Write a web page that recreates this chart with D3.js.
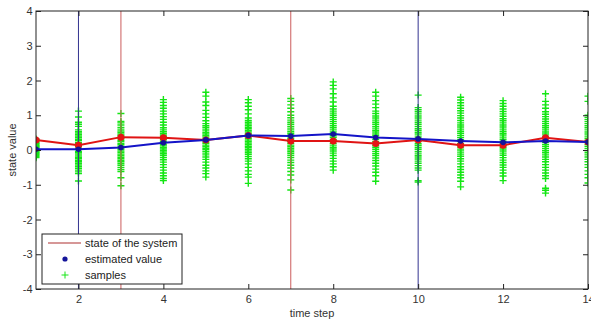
<!DOCTYPE html>
<html>
<head>
<meta charset="utf-8">
<script src="https://cdn.jsdelivr.net/npm/d3@7"></script>
<style>
  html, body { margin: 0; padding: 0; background: #fff; }
  svg { display: block; font-family: "Liberation Sans", Arial, sans-serif; }
</style>
</head>
<body>
<svg id="chart" width="591" height="322"></svg>
<script>
"use strict";

// time steps and the two trajectories
var steps = [1, 2, 3, 4, 5, 6, 7, 8, 9, 10, 11, 12, 13, 14];
var stateValues = [0.29, 0.14, 0.37, 0.35, 0.29, 0.42, 0.26, 0.26, 0.19, 0.29, 0.14, 0.14, 0.35, 0.23];
var estimatedValues = [0.02, 0.02, 0.07, 0.21, 0.29, 0.42, 0.40, 0.46, 0.36, 0.32, 0.26, 0.22, 0.26, 0.23];

// vertical markers: state (red) and estimate (blue)
var stateMarks = [3, 7];
var estimateMarks = [2, 10];

var xTicks = [2, 4, 6, 8, 10, 12, 14];
var yTicks = [-4, -3, -2, -1, 0, 1, 2, 3, 4];

// samples per time step
var samples = [
  [0.32, 0.29, 0.27, 0.24, 0.21, 0.19, 0.16, 0.13, 0.11, 0.08, 0.06, 0.03, 0.01, -0.02, -0.05, -0.07, -0.1, -0.13, -0.16, -0.19, -0.22],
  [1.12, 0.95, 0.8, 0.74, 0.68, 0.58, 0.53, 0.49, 0.44, 0.4, 0.36, 0.31, 0.27, 0.22, 0.18, 0.14, 0.1, 0.05, 0.01, -0.04, -0.08, -0.12, -0.17, -0.21, -0.25, -0.3, -0.34, -0.38, -0.43, -0.48, -0.53, -0.58, -0.63, -0.68, -0.89],
  [1.05, 0.82, 0.78, 0.72, 0.65, 0.6, 0.55, 0.51, 0.46, 0.42, 0.37, 0.33, 0.28, 0.24, 0.19, 0.15, 0.1, 0.06, 0.02, -0.03, -0.07, -0.12, -0.16, -0.21, -0.25, -0.3, -0.34, -0.39, -0.44, -0.5, -0.56, -0.62, -0.8, -1.03],
  [1.45, 1.37, 1.28, 1.2, 1.12, 1.04, 0.96, 0.88, 0.8, 0.72, 0.64, 0.58, 0.53, 0.48, 0.43, 0.39, 0.34, 0.3, 0.25, 0.21, 0.16, 0.12, 0.07, 0.03, -0.02, -0.06, -0.11, -0.16, -0.22, -0.28, -0.35, -0.42, -0.5, -0.58, -0.66, -0.74, -0.82, -0.88],
  [1.66, 1.55, 1.38, 1.28, 1.14, 1.04, 0.94, 0.84, 0.76, 0.7, 0.65, 0.6, 0.55, 0.5, 0.46, 0.41, 0.37, 0.32, 0.28, 0.23, 0.19, 0.14, 0.1, 0.05, 0.01, -0.04, -0.09, -0.14, -0.2, -0.27, -0.35, -0.44, -0.52, -0.6, -0.68, -0.78],
  [1.45, 1.36, 1.26, 1.16, 1.04, 0.92, 0.85, 0.8, 0.75, 0.7, 0.65, 0.61, 0.56, 0.52, 0.47, 0.43, 0.38, 0.34, 0.29, 0.25, 0.2, 0.16, 0.11, 0.07, 0.02, -0.03, -0.08, -0.13, -0.19, -0.25, -0.32, -0.4, -0.5, -0.6, -0.7, -0.78, -0.96],
  [1.48, 1.4, 1.3, 1.2, 1.1, 1.0, 0.93, 0.86, 0.8, 0.74, 0.68, 0.63, 0.58, 0.53, 0.48, 0.43, 0.38, 0.33, 0.28, 0.24, 0.19, 0.14, 0.1, 0.05, 0.0, -0.05, -0.1, -0.16, -0.22, -0.29, -0.36, -0.44, -0.52, -0.62, -0.72, -0.86, -1.15],
  [1.96, 1.86, 1.76, 1.62, 1.5, 1.38, 1.26, 1.18, 1.12, 1.06, 1.0, 0.94, 0.88, 0.82, 0.76, 0.7, 0.64, 0.58, 0.52, 0.47, 0.41, 0.36, 0.3, 0.25, 0.19, 0.14, 0.08, 0.03, -0.03, -0.09, -0.16, -0.24, -0.32, -0.4, -0.48, -0.58],
  [1.66, 1.55, 1.42, 1.32, 1.22, 1.12, 1.05, 0.98, 0.92, 0.86, 0.8, 0.74, 0.68, 0.63, 0.57, 0.52, 0.46, 0.41, 0.35, 0.3, 0.24, 0.19, 0.13, 0.08, 0.02, -0.04, -0.1, -0.16, -0.23, -0.3, -0.38, -0.46, -0.55, -0.64, -0.74, -0.9],
  [1.58, 1.22, 1.16, 1.1, 1.04, 0.98, 0.92, 0.86, 0.8, 0.74, 0.68, 0.62, 0.57, 0.51, 0.46, 0.4, 0.35, 0.29, 0.24, 0.18, 0.13, 0.07, 0.02, -0.04, -0.09, -0.15, -0.2, -0.26, -0.32, -0.38, -0.45, -0.52, -0.58, -0.88, -0.92],
  [1.52, 1.44, 1.36, 1.28, 1.2, 1.13, 1.06, 0.99, 0.92, 0.85, 0.78, 0.72, 0.66, 0.6, 0.54, 0.48, 0.42, 0.36, 0.3, 0.24, 0.18, 0.12, 0.06, 0.0, -0.06, -0.12, -0.18, -0.25, -0.32, -0.4, -0.48, -0.56, -0.64, -0.72, -0.8, -0.9, -1.06],
  [1.42, 1.34, 1.26, 1.18, 1.11, 1.04, 0.97, 0.9, 0.84, 0.78, 0.72, 0.66, 0.6, 0.54, 0.48, 0.43, 0.37, 0.31, 0.25, 0.2, 0.14, 0.08, 0.03, -0.03, -0.09, -0.15, -0.22, -0.29, -0.36, -0.43, -0.5, -0.58, -0.66, -0.75, -0.88],
  [1.62, 1.4, 1.3, 1.2, 1.1, 1.03, 0.96, 0.89, 0.82, 0.76, 0.7, 0.64, 0.58, 0.52, 0.46, 0.4, 0.34, 0.28, 0.22, 0.16, 0.1, 0.04, -0.02, -0.08, -0.14, -0.2, -0.27, -0.34, -0.42, -0.5, -0.58, -0.66, -0.74, -0.82, -1.1, -1.16, -1.24],
  [1.55, 1.4, 1.0, 0.94, 0.88, 0.82, 0.76, 0.7, 0.64, 0.58, 0.52, 0.46, 0.4, 0.34, 0.28, 0.22, 0.16, 0.1, 0.04, -0.02, -0.08, -0.14, -0.2, -0.27, -0.34, -0.42, -0.5, -0.6, -0.7, -0.8, -0.95]
];

var legendLabels = ["state of the system", "estimated value", "samples"];

var svg = d3.select("#chart");
var plot = { left: 36, right: 588, top: 11, bottom: 289 };

var x = d3.scaleLinear().domain([1, 14]).range([plot.left, plot.right]);
var y = d3.scaleLinear().domain([-4, 4]).range([plot.bottom, plot.top]);

svg.append("rect").attr("width", 591).attr("height", 322).attr("fill", "#fff");

svg.append("clipPath").attr("id", "clip")
    .append("rect")
    .attr("x", plot.left).attr("y", plot.top)
    .attr("width", plot.right - plot.left).attr("height", plot.bottom - plot.top);

var inner = svg.append("g").attr("clip-path", "url(#clip)");

// samples as "+" markers
var pts = [];
samples.forEach(function (col, i) {
    col.forEach(function (v) { pts.push({ t: steps[i], v: v }); });
});
inner.append("g")
    .selectAll("path")
    .data(pts)
    .enter()
    .append("path")
    .attr("d", "M-3.5,0H3.5M0,-3.5V3.5")
    .attr("transform", function (d) { return "translate(" + x(d.t) + "," + y(d.v) + ")"; })
    .attr("stroke", "#14e614")
    .attr("stroke-width", 1.4)
    .attr("fill", "none");

// vertical marker lines
inner.selectAll(".vstate")
    .data(stateMarks)
    .enter()
    .append("line")
    .attr("x1", function (d) { return x(d); }).attr("x2", function (d) { return x(d); })
    .attr("y1", plot.top).attr("y2", plot.bottom)
    .attr("stroke", "#cc5c5c")
    .attr("stroke-width", 1);

inner.selectAll(".vest")
    .data(estimateMarks)
    .enter()
    .append("line")
    .attr("x1", function (d) { return x(d); }).attr("x2", function (d) { return x(d); })
    .attr("y1", plot.top).attr("y2", plot.bottom)
    .attr("stroke", "#33338f")
    .attr("stroke-width", 1);

// state of the system
var line = d3.line()
    .x(function (d, i) { return x(steps[i]); })
    .y(function (d) { return y(d); });

inner.append("path")
    .datum(stateValues)
    .attr("d", line)
    .attr("fill", "none")
    .attr("stroke", "#e01414")
    .attr("stroke-width", 2);

inner.selectAll(".sdot")
    .data(stateValues)
    .enter()
    .append("circle")
    .attr("cx", function (d, i) { return x(steps[i]); })
    .attr("cy", function (d) { return y(d); })
    .attr("r", 3.5)
    .attr("fill", "#e61414");

// estimated value
inner.append("path")
    .datum(estimatedValues)
    .attr("d", line)
    .attr("fill", "none")
    .attr("stroke", "#1414c8")
    .attr("stroke-width", 2);

inner.selectAll(".edot")
    .data(estimatedValues)
    .enter()
    .append("circle")
    .attr("cx", function (d, i) { return x(steps[i]); })
    .attr("cy", function (d) { return y(d); })
    .attr("r", 2.8)
    .attr("fill", "#14149a");

// axes, ticks pointing inward on all four sides
var plain = function (d) { return String(d); };
var axBottom = svg.append("g")
    .attr("transform", "translate(0," + plot.bottom + ")")
    .call(d3.axisBottom(x).tickValues(xTicks).tickFormat(plain).tickSize(-5).tickSizeOuter(0).tickPadding(6));
var axTop = svg.append("g")
    .attr("transform", "translate(0," + plot.top + ")")
    .call(d3.axisTop(x).tickValues(xTicks).tickSize(-5).tickSizeOuter(0).tickFormat(""));
var axLeft = svg.append("g")
    .attr("transform", "translate(" + plot.left + ",0)")
    .call(d3.axisLeft(y).tickValues(yTicks).tickFormat(plain).tickSize(-5).tickSizeOuter(0).tickPadding(3.5));
var axRight = svg.append("g")
    .attr("transform", "translate(" + plot.right + ",0)")
    .call(d3.axisRight(y).tickValues(yTicks).tickSize(-5).tickSizeOuter(0).tickFormat(""));

[axBottom, axTop, axLeft, axRight].forEach(function (g) {
    g.select(".domain").remove();
    g.selectAll("line").attr("stroke", "#222");
    g.selectAll("text")
        .attr("fill", "#333")
        .style("font-family", "'Liberation Sans', Arial, sans-serif")
        .style("font-size", "11px");
});

svg.append("rect")
    .attr("x", plot.left).attr("y", plot.top)
    .attr("width", plot.right - plot.left).attr("height", plot.bottom - plot.top)
    .attr("fill", "none")
    .attr("stroke", "#222")
    .attr("stroke-width", 1);

// axis titles
svg.append("text")
    .attr("x", (plot.left + plot.right) / 2)
    .attr("y", 317)
    .attr("text-anchor", "middle")
    .attr("fill", "#333")
    .style("font-size", "11px")
    .text("time step");

svg.append("text")
    .attr("transform", "translate(16," + y(0) + ") rotate(-90)")
    .attr("text-anchor", "middle")
    .attr("fill", "#333")
    .style("font-size", "11px")
    .text("state value");

// legend
var legend = svg.append("g").attr("transform", "translate(42,234)");
legend.append("rect")
    .attr("width", 140).attr("height", 50)
    .attr("fill", "#fff")
    .attr("stroke", "#222")
    .attr("stroke-width", 1);

legend.append("line")
    .attr("x1", 6).attr("x2", 39).attr("y1", 9).attr("y2", 9)
    .attr("stroke", "#c87474").attr("stroke-width", 1.5);
legend.append("circle")
    .attr("cx", 23).attr("cy", 25).attr("r", 2.6).attr("fill", "#14149a");
legend.append("path")
    .attr("d", "M-3.5,0H3.5M0,-3.5V3.5")
    .attr("transform", "translate(23,41)")
    .attr("stroke", "#19e619").attr("fill", "none");

legend.selectAll(".lt")
    .data(legendLabels)
    .enter()
    .append("text")
    .attr("x", 43)
    .attr("y", function (d, i) { return 13 + i * 16; })
    .attr("fill", "#222")
    .style("font-size", "11px")
    .text(function (d) { return d; });
</script>
</body>
</html>
